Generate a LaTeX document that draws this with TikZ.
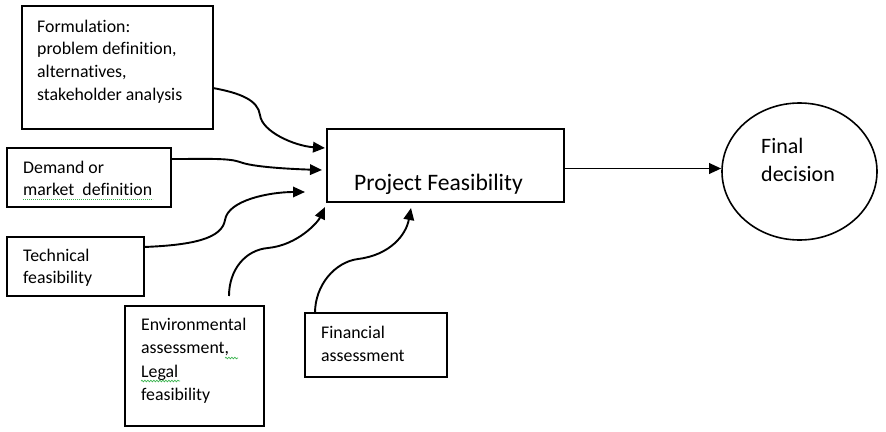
\documentclass[tikz,border=0pt]{standalone}
\usepackage{fontspec}
\setmainfont{Carlito}[Ligatures=NoCommon]
\usetikzlibrary{arrows.meta,shapes.geometric,decorations.pathmorphing}
\definecolor{spellgreen}{RGB}{60,180,80}
\newcommand{\boxtext}[3]{\parbox[t]{220pt}{\fontsize{#1}{#2}\selectfont\raggedright #3}}
\begin{document}
\begin{tikzpicture}[x=1pt,y=-1pt,
  box/.style={draw,line width=2pt,rectangle,inner sep=0pt,outer sep=0pt},
  lbl/.style={inner sep=0pt,anchor=base west},
  conn/.style={line width=1.9pt,-{Triangle[length=12pt,width=10.5pt]}},
  spelldot/.style={spellgreen,line width=0.8pt,dash pattern=on 0.8pt off 1.2pt},
  spellwave/.style={spellgreen,line width=0.7pt,decorate,
    decoration={snake,segment length=3pt,amplitude=0.8pt}}]
\useasboundingbox (0,0) rectangle (886,431);

% boxes
\node[box,minimum width=191pt,minimum height=123pt] (form) at (117.5,67.5) {};
\node[box,minimum width=164pt,minimum height=59pt] (dem) at (89,177.5) {};
\node[box,minimum width=137pt,minimum height=59pt] (tech) at (75.5,266.5) {};
\node[box,minimum width=139pt,minimum height=120pt] (env) at (194.5,366) {};
\node[box,minimum width=142pt,minimum height=64pt] (fin) at (376,345) {};
\node[box,minimum width=237pt,minimum height=73pt] (pf) at (445.5,165.5) {};
\node[draw,line width=1.6pt,ellipse,inner sep=0pt,minimum width=155pt,minimum height=137pt] (fd) at (799.5,171.5) {};

% texts
\node[lbl] (formtxt) at (37,32) {\boxtext{17.8}{22.7}{Formulation:\\problem definition,\\alternatives,\\stakeholder analysis}};
\node[lbl] (demtxt) at (23,173) {\boxtext{17.8}{22.7}{Demand or\\market\ \ definition}};
\node[lbl] (techtxt) at (23,261) {\boxtext{17.8}{22.3}{Technical\\feasibility}};
\node[lbl] (envtxt) at (141,330) {\boxtext{17.8}{23.6}{Environmental\\assessment,\\Legal\\feasibility}};
\node[lbl] (fintxt) at (321,338) {\boxtext{17.8}{23}{Financial\\assessment}};
\node[lbl] (pftxt) at (354,190) {\boxtext{23.6}{28}{Project Feasibility}};
\node[lbl] (fdtxt) at (761,153) {\boxtext{22}{28}{Final\\decision}};

% spell-check marks
\draw[spelldot] (23,199) -- (153,199);
\draw[spellwave] (225,358) -- (238,358);
\draw[spellwave] (141,381) -- (180,381);

% connectors
\draw[conn] ([yshift=-20.5pt]form.east) .. controls (240,93) and (258,100) .. (260,115)
  .. controls (262,132) and (295,146) .. ([xshift=-2pt,yshift=17.5pt]pf.west);
\draw[conn] ([yshift=18.5pt]dem.east) .. controls (210,159) and (228,158) .. (240,162)
  .. controls (252,167) and (290,169) .. ([xshift=-5pt,yshift=-4.5pt]pf.west);
\draw[conn] ([yshift=19.5pt]tech.east) .. controls (195,245) and (222,238) .. (225,220)
  .. controls (228,200) and (270,192) .. ([xshift=-22pt,yshift=-26.5pt]pf.west);
\draw[conn] ([xshift=34.5pt,yshift=10pt]env.north) .. controls (229,270) and (245,250) .. (268,248)
  .. controls (298,245) and (318,222) .. ([xshift=-2pt,yshift=-5pt]pf.south west);
\draw[conn] ([xshift=-61pt]fin.north) .. controls (315,285) and (335,262) .. (358,259)
  .. controls (390,255) and (406,235) .. ([xshift=-34.5pt,yshift=-6pt]pf.south);
\draw[conn] ([yshift=-3pt]pf.east) -- ([yshift=-3pt]pf.east -| fd.west);
\end{tikzpicture}
\end{document}
